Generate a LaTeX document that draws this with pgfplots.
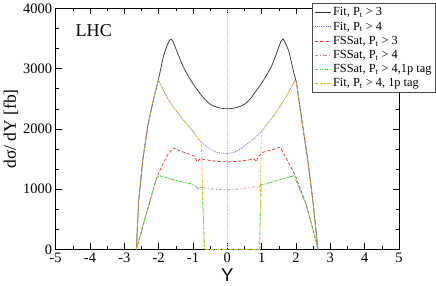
\documentclass[border=0pt]{standalone}
\usepackage{fontspec}
\setmainfont{Liberation Serif}
\newfontfamily\arialfont{Liberation Sans}
\usepackage{pgfplots}
\pgfplotsset{compat=1.18}
\definecolor{cblue}{RGB}{110,110,255}
\definecolor{cred}{RGB}{255,30,30}
\definecolor{cpink}{RGB}{190,140,140}
\definecolor{cgreen}{RGB}{40,230,40}
\definecolor{corange}{RGB}{255,170,20}
\tikzset{
  sA/.style={draw=black!80, line width=0.7pt, solid},
  sB/.style={draw=cblue, line width=0.7pt, dash pattern=on 1pt off 1pt},
  sC/.style={draw=cred, line width=0.7pt, dash pattern=on 3pt off 2pt},
  sD/.style={draw=cpink, line width=0.7pt, dash pattern=on 3pt off 2pt on 1pt off 2pt},
  sE/.style={draw=cgreen, line width=0.7pt, dash pattern=on 3pt off 1.5pt on 1pt off 1.5pt on 1pt off 1.5pt},
  sF/.style={draw=corange, line width=0.7pt, dash pattern=on 3pt off 1.5pt on 3pt off 1.5pt on 1pt off 1.5pt},
}
\begin{document}
\begin{tikzpicture}
\begin{axis}[
  scale only axis, width=333pt, height=234pt,
  xmin=-5, xmax=5, ymin=0, ymax=4000,
  xtick={-5,...,5}, minor x tick num=1,
  ytick={0,1000,...,4000}, minor y tick num=2,
  tick align=inside, major tick length=6pt, minor tick length=3pt,
  tick style={black, line width=0.5pt},
  axis line style={line width=0.6pt},
  /pgf/number format/assume math mode=true,
  /pgf/number format/1000 sep={},
  every tick label/.append style={font=\fontsize{14}{14}\selectfont},
  xlabel={\arialfont Y},
  ylabel={dσ/ dY [fb]},
  xlabel style={font=\fontsize{18}{18}\selectfont, yshift=1pt},
  ylabel style={font=\fontsize{17}{17}\selectfont, yshift=-2pt},
  legend style={at={(rel axis cs:0.748,1.021)}, anchor=north west,
    font=\fontsize{12}{12}\selectfont, draw=black!70, line width=0.6pt,
    row sep=0.3pt, inner xsep=2pt, inner ysep=2pt, cells={anchor=west}},
]
\addplot[draw=gray!50, line width=0.5pt, dash pattern=on 1pt off 1pt, forget plot] coordinates {(0,0)(0,4000)};
% Fit, Pt > 3
\addplot[sA, legend image code/.code={\draw[sA] (0pt,0pt) -- (15pt,0pt);}] coordinates {
(-2.65,0)(-2.58,815)(-2.46,1499)(-2.31,2068)(-2.16,2467)(-2.01,2809)(-1.86,3208)(-1.76,3379)(-1.69,3465)(-1.64,3490)(-1.58,3450)(-1.5,3330)(-1.4,3190)(-1.3,3050)(-1.2,2940)(-1.1,2840)(-1.0,2750)(-0.9,2670)(-0.8,2590)(-0.7,2520)(-0.6,2460)(-0.5,2410)(-0.4,2380)(-0.3,2360)(-0.2,2345)(-0.1,2337)(0,2335)(0.1,2337)(0.2,2345)(0.3,2360)(0.4,2380)(0.5,2410)(0.6,2460)(0.7,2520)(0.8,2600)(0.9,2680)(1.0,2760)(1.1,2850)(1.2,2950)(1.29,3040)(1.4,3200)(1.5,3360)(1.56,3450)(1.62,3492)(1.68,3440)(1.79,3293)(1.94,2923)(2.01,2781)(2.19,2068)(2.34,1499)(2.49,815)(2.64,0)};
\addlegendentry{Fit, P\textsubscript{t} > 3}
% Fit, Pt > 4
\addplot[sB, legend image code/.code={\draw[sB] (0pt,0pt) -- (15pt,0pt);}] coordinates {
(-2.65,0)(-2.58,815)(-2.46,1499)(-2.31,2068)(-2.16,2467)(-2.01,2809)(-1.86,2638)(-1.7,2470)(-1.56,2353)(-1.4,2240)(-1.3,2160)(-1.16,2068)(-1.0,1960)(-0.9,1880)(-0.76,1783)(-0.6,1705)(-0.5,1665)(-0.36,1624)(-0.2,1600)(0,1592)(0.2,1610)(0.39,1670)(0.6,1760)(0.8,1850)(0.99,1954)(1.2,2110)(1.4,2260)(1.59,2422)(1.8,2620)(1.97,2809)(2.01,2781)(2.19,2068)(2.34,1499)(2.49,815)(2.64,0)};
\addlegendentry{Fit, P\textsubscript{t} > 4}
% FSSat, Pt > 3
\addplot[sC, legend image code/.code={\draw[sC] (0pt,0pt) -- (15pt,0pt);}] coordinates {
(-2.65,0)(-2.36,590)(-2.06,1190)(-1.9,1390)(-1.75,1560)(-1.58,1685)(-1.4,1640)(-1.2,1600)(-1.05,1570)(-0.95,1545)(-0.88,1455)(-0.8,1500)(-0.6,1485)(-0.4,1470)(-0.2,1458)(0,1453)(0.2,1458)(0.4,1470)(0.6,1485)(0.79,1500)(0.84,1455)(0.9,1540)(1.04,1612)(1.2,1640)(1.4,1670)(1.54,1698)(1.7,1530)(1.85,1370)(1.99,1214)(2.29,758)(2.59,131)(2.64,0)};
\addlegendentry{FSSat, P\textsubscript{t} > 3}
% FSSat, Pt > 4
\addplot[sD, legend image code/.code={\draw[sD] (0pt,0pt) -- (15pt,0pt);}] coordinates {
(-2.65,0)(-2.36,590)(-2.06,1185)(-1.98,1225)(-1.8,1195)(-1.56,1157)(-1.3,1120)(-1.06,1088)(-0.95,1060)(-0.86,1014)(-0.74,1030)(-0.6,1015)(-0.4,1000)(-0.2,992)(0,990)(0.2,995)(0.4,1010)(0.6,1025)(0.84,1043)(0.9,1025)(0.99,1071)(1.3,1120)(1.6,1170)(1.94,1225)(2.29,758)(2.59,131)(2.64,0)};
\addlegendentry{FSSat, P\textsubscript{t} > 4}
% FSSat, Pt > 4, 1p tag
\addplot[sE, legend image code/.code={\draw[sE] (0pt,0pt) -- (15pt,0pt);}] coordinates {
(-2.65,0)(-2.36,590)(-2.06,1185)(-1.98,1225)(-1.8,1195)(-1.56,1157)(-1.3,1120)(-1.06,1088)(-0.95,1060)(-0.86,1014)(-0.74,1030)(-0.66,0)(0.94,0)(0.99,1071)(1.3,1120)(1.6,1170)(1.94,1225)(2.29,758)(2.59,131)(2.64,0)};
\addlegendentry{FSSat, P\textsubscript{t} > 4,1p tag}
% Fit, Pt > 4, 1p tag
\addplot[sF, legend image code/.code={\draw[sF] (0pt,0pt) -- (15pt,0pt);}] coordinates {
(-2.65,0)(-2.58,815)(-2.46,1499)(-2.31,2068)(-2.16,2467)(-2.01,2809)(-1.86,2638)(-1.7,2470)(-1.56,2353)(-1.4,2240)(-1.3,2160)(-1.16,2068)(-1.0,1960)(-0.9,1880)(-0.76,1783)(-0.67,0)(0.94,0)(0.99,1954)(1.2,2110)(1.4,2260)(1.59,2422)(1.8,2620)(1.97,2809)(2.01,2781)(2.19,2068)(2.34,1499)(2.49,815)(2.64,0)};
\addlegendentry{Fit, P\textsubscript{t} > 4, 1p tag}
\node[font=\fontsize{17.5}{17.5}\selectfont] at (axis cs:-3.89,3624) {LHC};
\end{axis}
\end{tikzpicture}
\end{document}
